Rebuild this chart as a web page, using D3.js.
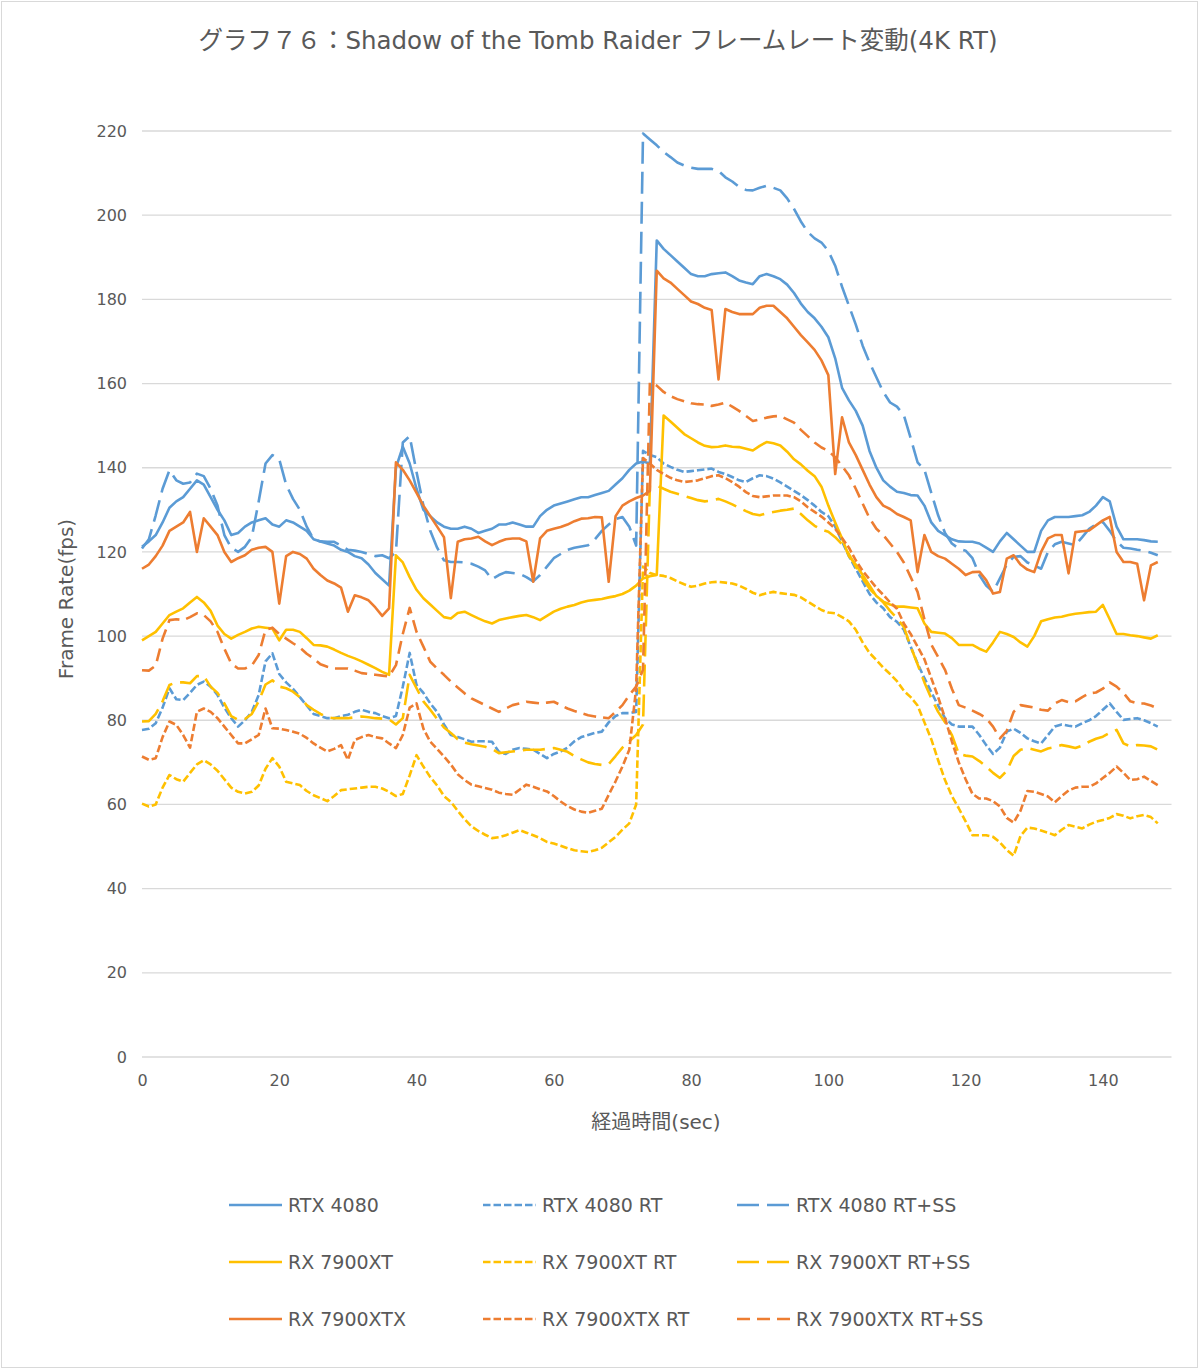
<!DOCTYPE html>
<html>
<head>
<meta charset="utf-8">
<script src="https://cdn.jsdelivr.net/npm/d3@7/dist/d3.min.js"></script>
<style>
  html, body { margin: 0; padding: 0; background: #fff; }
  svg { display: block; }
  text { font-family: "DejaVu Sans", "Noto Sans CJK JP", sans-serif; fill: #595959; }
</style>
</head>
<body>
<svg id="chart" width="1200" height="1370"></svg>
<script>
// ---- data (seconds 0..148) ----
const seconds = d3.range(0, 149);
const yTicks = [0, 20, 40, 60, 80, 100, 120, 140, 160, 180, 200, 220];
const xTicks = [0, 20, 40, 60, 80, 100, 120, 140];

const rtx4080 = [
121.2,122.5,124,127,130.5,132,133,135,137,136,
133,130,127.5,124,124.5,126,127,127.5,128,126.5,
126,127.5,127,126,125,123,122.5,122,121.5,120.5,
120,119,118.5,117,115,113.5,112,140,145,141,
135,130,128.5,127,126,125.5,125.5,126,125.5,124.5,
125,125.5,126.5,126.5,127,126.5,126,126,128.5,130,
131,131.5,132,132.5,133,133,133.5,134,134.5,136,
137.5,139.5,141,141.5,141,194,192,190.5,189,187.5,
186,185.5,185.5,186,186.2,186.4,185.5,184.5,184,183.6,
185.5,186,185.5,184.8,183.5,181.5,179,177,175.5,173.5,
171,166,159,156,153.5,150,144,140,137,135.5,
134.3,134,133.5,133.4,131,127,125,124,123,122.5,
122.4,122.4,122,121,120,122.5,124.5,123,121.5,120,
120,125,127.5,128.3,128.3,128.3,128.5,128.7,129.5,131,
133,132,126,123,123,123,122.8,122.5,122.4];

const rtx4080RT = [
77.7,78,79.3,83,87.6,85,84.8,86.5,88.4,89.2,
88,86,83,80.5,78.5,80,82,86,94,95.9,
91,89,87.5,85.5,83.5,81.5,81,80.5,80.5,81,
81.3,82,82.5,82,81.7,81,80.5,81,88,96,
88.4,86.5,84,82,79,76.5,76,75.5,74.9,75,
75,74.9,72.5,72,73,73.4,73.2,73,72,71,
72,72.6,73.5,75,76,76.5,77,77.3,79.5,81,
81.7,81.7,82,144,143,142.5,141,140.2,139.5,139,
139.2,139.4,139.6,139.8,139,138.5,137.8,137,136.6,137.5,
138.2,138,137.4,136.5,135.5,134.5,133.5,132.3,131,129.5,
128.5,126,122.5,119,116,113,110,108,106.6,104.5,
103.4,101.5,97.5,93.5,90,86.7,83.5,80.5,79,78.5,
78.5,78.5,76.5,74.1,72,73.5,77.3,78,77,75.7,
75,74.5,76.5,78.5,79,78.7,78.5,79.3,80,81,
82.5,84,82,80.1,80.3,80.5,80,79.3,78.5];

const rtx4080RTSS = [
120.8,123,128.7,135,139.4,137,136.2,136.5,138.6,138,
135,131,124,121,120,121.2,123.5,132,141,143,
142,136,132.6,130,126,123,122.5,122.4,122.4,121.5,
120.5,120.3,120,119.5,119,119.2,118.5,120,146,147.5,
139,131,125,121,118,117.6,117.6,117.5,117.2,116.5,
115.6,113.5,114.5,115.2,115,114.8,114,113,114.5,116.5,
118.5,119.5,120.5,121,121.3,121.6,123,125,126.5,127.8,
128.3,126,121.5,219.4,218,216.6,215,213.8,212.5,211.8,
211.3,211,211,211,210.5,209,208,206.7,206,205.9,
206.5,207,206.5,205.9,204,201.5,198.5,196,194.5,193.5,
191.5,188,183,178.5,174,169,165,161.5,158,155.5,
154.5,152.5,147,141.3,139.5,134,128.7,124.5,122,120.8,
120.3,118.5,114.5,112,110.5,113.7,117,118.8,119,117.5,
116.8,116,120,121.8,122.4,122,121.6,123.5,125.5,126.5,
127.1,125,122.5,121,120.8,120.5,120.3,119.8,119.2];

const rx7900xt = [
99,100,101,103,105,105.8,106.6,108,109.3,108,
106,102.5,100.5,99.4,100.3,101,101.8,102.2,102,101.8,
99,101.5,101.5,101,99.5,97.9,97.8,97.5,96.8,96,
95.3,94.7,94,93.2,92.4,91.5,90.8,119.2,117.5,114,
111,109,107.5,106,104.5,104.2,105.5,105.8,105,104.2,
103.5,103,103.8,104.2,104.5,104.8,105,104.5,103.8,104.8,
105.8,106.5,107,107.4,108,108.4,108.6,108.8,109.2,109.5,
110,110.8,112,113.7,114.2,114.5,152.4,151,149.5,148,
147,146,145.2,144.9,145,145.3,145,144.9,144.5,144.1,
145.2,146.1,145.8,145.3,143.8,142,140.8,139.3,138,135.5,
131,127,123.2,119,117,114.5,112,109.5,108.2,107.5,
107,107,106.8,106.6,103,101,100.8,100.6,99.5,97.9,
97.9,97.9,97,96.3,98.5,101,100.5,99.8,98.5,97.5,
100,103.5,104,104.4,104.6,105,105.3,105.5,105.7,105.8,
107.4,104,100.5,100.5,100.2,100,99.7,99.4,100.2];

const rx7900xtRT = [
60.2,59.5,60,64,67,66,65.4,67.5,69.5,70.5,
69.5,68,66,64,63,62.6,63,64.5,68.5,71,
69,65.4,65,64.6,63.2,62.2,61.5,60.8,62,63.4,
63.6,63.8,64,64.2,64.2,63.8,63,62,62.5,66.9,
71.7,69,66.5,64.5,62,60.6,58.5,56.5,54.8,53.7,
52.8,52,52.2,52.7,53.3,53.9,53.3,52.7,52,51.1,
50.7,50.2,49.6,49.1,48.9,48.7,49.1,49.7,51,52.3,
54,55.5,60,116.5,115,114.5,114.3,113.8,113,112.3,
111.7,112,112.5,112.8,112.9,112.7,112.5,112,111.2,110.3,
109.7,110.2,110.5,110.2,110,109.8,109.2,108.2,107.2,106.2,
105.6,105.4,104.5,103.5,101.5,98.5,96,94.3,92.5,91,
89.3,87,85.5,83.5,79.5,75.5,70.5,65.8,62,59.1,
56,52.7,52.7,52.7,52.3,51,49.2,47.8,52.5,54.5,
54.3,53.8,53.3,52.7,54,55.1,54.7,54.3,55.2,55.9,
56.3,56.8,57.7,57.3,56.7,57.2,57.5,57,55.5];

const rx7900xtRTSS = [
79.7,79.8,81.5,84.5,88.4,89,89,88.8,90.5,90.5,
88,86.5,84,81,80.1,80.3,81.5,84.5,88.5,89.5,
88,87.6,86.8,85.5,83.6,82.5,81.5,80.7,80.5,80.5,
80.5,80.7,80.9,80.7,80.5,80.4,80.2,79,80.5,90.8,
87.6,84.5,82.5,80.3,78.3,77,75.5,74.7,74.3,74,
73.7,73.2,72.2,72.4,72.6,72.8,73,73,73,73.2,
73.4,73,72.5,71.5,70.7,70,69.6,69.4,69.6,71.5,
73.5,75,76.5,79,135.8,135.8,135,134.3,133.8,133.3,
132.8,132.3,132,132.2,132.6,132,131.3,130.5,129.7,129,
128.7,129.2,129.5,129.8,130,130.3,129,127.5,126.2,125.3,
124.8,123.5,121.8,119.5,116.5,113.7,111.3,109.5,108,106,
104.2,102.2,97.5,93.3,89,85.2,82,79.5,76.5,72,
71.6,71.4,70.3,69,67.5,66.3,68,71.5,73,73.4,
73,72.6,73.3,73.6,74.1,73.8,73.4,74,74.9,75.6,
76.1,77,77.7,74.5,73.8,74.1,74,73.8,73];

const rx7900xtx = [
116,117,119,121.5,125,126,127,129.5,120,128,
126,124,120,117.6,118.5,119.2,120.5,121,121.2,120,
107.7,119,120,119.5,118.4,116,114.5,113.2,112.5,111.5,
105.8,109.7,109.2,108.5,106.8,104.8,106.6,141.3,139.5,137,
134,131,128.5,126,123.5,109,122.4,123,123.2,123.6,
122.5,121.6,122.4,123,123.2,123.2,122.5,112.9,123.2,125,
125.5,125.9,126.5,127.3,127.9,128,128.3,128.2,112.9,128.5,
131,132,132.8,133.4,134.5,186.8,185,184,182.5,181,
179.5,178.9,178,177.5,161,177.7,177,176.5,176.5,176.5,
178,178.5,178.5,177,175.5,173.5,171.5,169.8,168,165.5,
162,138.5,152,146,143,139.5,136,133,131,130.2,
129,128.3,127.5,115.2,124,120,119,118.4,117.2,116,
114.5,115.2,115.3,113.3,110.1,110.5,118.4,119.2,117,115.8,
115.2,120,123.2,124,124,114.9,124.7,124.9,125.1,126.3,
127.5,128.3,120,117.6,117.6,117.2,108.5,116.8,117.6];

const rx7900xtxRT = [
71.4,70.6,71,76,79.7,78.9,76.5,73.5,82,82.8,
82,80.5,78.5,76.5,74.5,74.5,75.5,76.5,82.8,78.1,
78,77.7,77.3,76.8,75.8,74.5,73.5,72.6,73.2,74.1,
70.6,75.3,76,76.5,76,75.7,74.5,73.4,76.5,83,
84,78,74.9,73.2,71.4,69.5,67.2,65.8,64.7,64.3,
63.9,63.5,62.8,62.5,62.3,63.5,64.7,64.2,63.6,63.1,
62,60.7,59.6,58.8,58.3,58,58.5,59,62.3,65.5,
69,73,87.6,142.3,141,139.5,138.5,137.6,137,136.6,
136.8,137,137.5,138,138.2,137.5,136.6,135.5,134.2,133.3,
133,133.2,133.4,133.4,133.4,133,132,130.6,129.5,128.4,
127,125.5,123.3,121,118,115.5,113.5,111.5,109.8,108,
106.5,103,100.5,97.5,94.5,90,85.5,80.5,75,70,
66,62.5,61.4,61.4,60.8,59.5,56.8,55.7,58.5,63.2,
63,62.5,61.9,60.5,62,63.3,64,64.2,64.2,65,
66.3,67.5,69,67.5,65.8,66,66.6,65.6,64.6];

const rx7900xtxRTSS = [
91.9,91.8,93,99.4,103.8,104,103.8,104.5,105.4,105,
103.5,101,97,93.5,92.3,92.3,93,95.5,101.5,102,
100.5,99.4,98.3,97.3,95.8,94.7,93.3,92.7,92.3,92.3,
92.3,91.8,91.2,91,90.8,90.6,90.4,93.1,100.5,106.7,
101,97.5,93.9,92.3,90.8,89.2,87.8,86.4,85.2,84.4,
83.6,82.8,82,82.8,83.6,84,84.4,84.2,84,84.2,
84.4,83.6,82.8,82.2,81.7,81.2,80.9,80.7,80.5,82,
83.6,86,88,92,160.3,159.5,158,157,156.3,155.8,
155.3,155.1,155,154.7,155,155.5,154.5,153.5,152.3,151.1,
151.5,151.9,152.2,152.3,151.5,150.7,149,147.5,146,144.8,
144,142.5,140.4,138.2,135,131.5,128,125.5,124,122,
120,117.5,114,110.5,104,98,95,92,87.5,83.6,
83,82.3,81.5,80.5,78.5,75.7,77.5,82,83.6,83.3,
83,82.5,82.3,84,84.8,84.3,84.5,85.5,86.4,86.6,
87.5,89,88,86.5,84.5,84,84,83.5,82.8];

const seriesNames = ["RTX 4080", "RTX 4080 RT", "RTX 4080 RT+SS",
                     "RX 7900XT", "RX 7900XT RT", "RX 7900XT RT+SS",
                     "RX 7900XTX", "RX 7900XTX RT", "RX 7900XTX RT+SS"];
const seriesValues = [rtx4080, rtx4080RT, rtx4080RTSS,
                      rx7900xt, rx7900xtRT, rx7900xtRTSS,
                      rx7900xtx, rx7900xtxRT, rx7900xtxRTSS];

// ---- styles ----
const colors = ["#5B9BD5", "#5B9BD5", "#5B9BD5",
                "#FFC000", "#FFC000", "#FFC000",
                "#ED7D31", "#ED7D31", "#ED7D31"];
const dashes = [null, "7.5,3", "22,8",
                null, "7.5,3", "22,8",
                null, "7.5,3", "13,7"];

const svg = d3.select("#chart");
svg.append("rect").attr("x", 0).attr("y", 0).attr("width", 1200).attr("height", 1370).attr("fill", "#fff");
svg.append("rect").attr("x", 1.5).attr("y", 1.5).attr("width", 1196).attr("height", 1366)
   .attr("fill", "none").attr("stroke", "#d9d9d9").attr("stroke-width", 1);

const x = d3.scaleLinear().domain([0, 150]).range([142, 1171.5]);
const y = d3.scaleLinear().domain([0, 220]).range([1057, 131]);

// gridlines
svg.append("g").selectAll("line").data(yTicks).join("line")
  .attr("x1", x(0)).attr("x2", x(150))
  .attr("y1", d => y(d)).attr("y2", d => y(d))
  .attr("stroke", "#d9d9d9").attr("stroke-width", 1.3);

// y axis labels
const yAxis = d3.axisLeft(y).tickValues(yTicks).tickSize(0).tickPadding(0);
const gy = svg.append("g").attr("transform", "translate(127,0)").call(yAxis);
gy.select(".domain").remove();
gy.selectAll("text").attr("font-size", 16).style("fill", "#595959")
  .attr("font-family", "DejaVu Sans, Noto Sans CJK JP, sans-serif");

// x axis labels
const xAxis = d3.axisBottom(x).tickValues(xTicks).tickSize(0).tickPadding(0);
const gx = svg.append("g").attr("transform", "translate(0,1075)").call(xAxis);
gx.select(".domain").remove();
gx.selectAll("text").attr("font-size", 16).style("fill", "#595959")
  .attr("font-family", "DejaVu Sans, Noto Sans CJK JP, sans-serif");

// lines
const line = d3.line().x((d, i) => x(seconds[i])).y(d => y(d));
const plot = svg.append("g");
seriesValues.forEach((vals, k) => {
  plot.append("path")
    .attr("d", line(vals))
    .attr("fill", "none")
    .attr("stroke", colors[k])
    .attr("stroke-width", 2.6)
    .attr("stroke-linejoin", "round")
    .attr("stroke-linecap", "butt")
    .attr("stroke-dasharray", dashes[k]);
});

// title
svg.append("text").attr("x", 598).attr("y", 49).attr("text-anchor", "middle")
  .attr("font-size", 24.5).text("グラフ７６：Shadow of the Tomb Raider フレームレート変動(4K RT)");

// axis titles
svg.append("text").attr("transform", "translate(73,599) rotate(-90)")
  .attr("text-anchor", "middle").attr("font-size", 20).text("Frame Rate(fps)");
svg.append("text").attr("x", 656).attr("y", 1129).attr("text-anchor", "middle")
  .attr("font-size", 20).text("経過時間(sec)");

// legend
const legendRows = [1205, 1262, 1319];
const legendCols = [229, 483, 737];
const leg = svg.append("g");
seriesNames.forEach((name, k) => {
  const cx = legendCols[k % 3], cy = legendRows[Math.floor(k / 3)];
  leg.append("line").attr("x1", cx).attr("x2", cx + 53).attr("y1", cy).attr("y2", cy)
    .attr("stroke", colors[k]).attr("stroke-width", 2.6)
    .attr("stroke-dasharray", dashes[k]);
  leg.append("text").attr("x", cx + 59).attr("y", cy + 7).attr("font-size", 19).text(name);
});
</script>
</body>
</html>
